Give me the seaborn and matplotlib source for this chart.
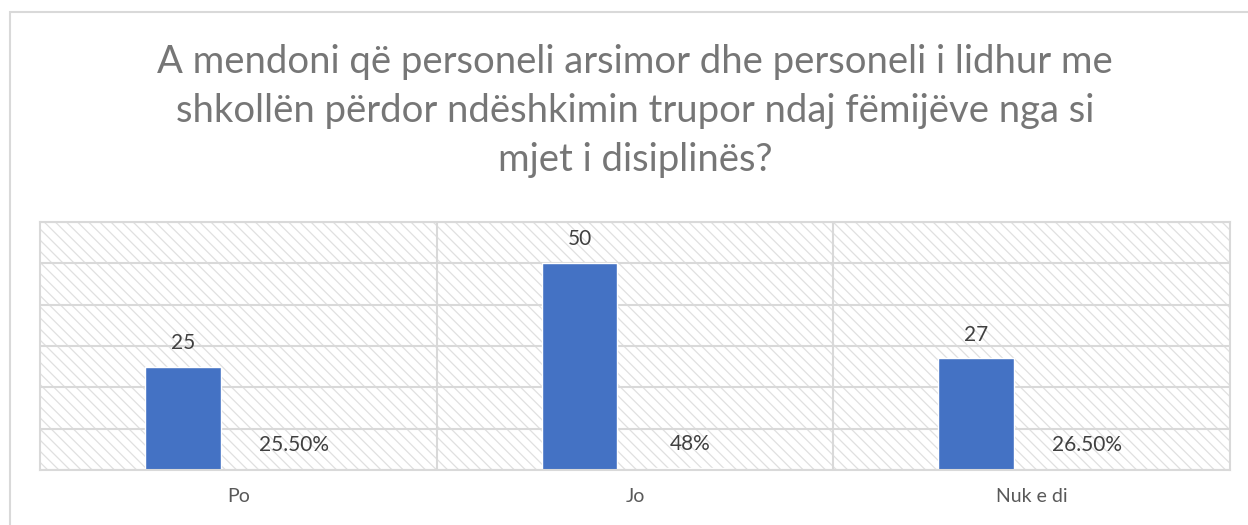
import pandas as pd
import seaborn as sns
import matplotlib.pyplot as plt
from matplotlib.patches import Rectangle

# data
categories = ["Po", "Jo", "Nuk e di"]
counts = [25, 50, 27]
shares = [0.255, 0.48, 0.265]
share_labels = ["25.50%", "48%", "26.50%"]
title_lines = [
    "A mendoni që personeli arsimor dhe personeli i lidhur me",
    "shkollën përdor ndëshkimin trupor ndaj fëmijëve nga si",
    "mjet i disiplinës?",
]

df = pd.DataFrame({
    "kategoria": categories * 2,
    "vlera": counts + shares,
    "seria": ["numri"] * 3 + ["perqindja"] * 3,
})

sns.set_theme(style="white")
plt.rcParams["font.family"] = ["Lato", "DejaVu Sans"]
plt.rcParams["hatch.linewidth"] = 0.9
plt.rcParams["hatch.color"] = "#e0e0e0"

W, H = 1248, 525
fig = plt.figure(figsize=(W / 100, H / 100), dpi=100)
ax = fig.add_axes([40 / W, 55 / H, 1190 / W, 248 / H])

grid_col = "#d9d9d9"
ax.add_patch(Rectangle((0, 0), 1, 1, transform=ax.transAxes, fill=False,
                       hatch="\\\\\\", edgecolor="#e0e0e0", lw=0, zorder=0.1))

sns.barplot(data=df, x="kategoria", y="vlera", hue="seria",
            palette=["#4472C4", "#ED7D31"], saturation=1, width=0.56, gap=0.32,
            legend=False, ax=ax, zorder=2)

ax.bar_label(ax.containers[0], labels=[str(c) for c in counts],
             padding=10, fontsize=15, color="#404040")
ax.bar_label(ax.containers[1], labels=share_labels,
             padding=10, fontsize=15, color="#404040")

ax.set_xlim(-0.5, 2.5)
ax.set_ylim(0, 60)
ax.set_yticks(range(0, 61, 10))
ax.yaxis.grid(True, color=grid_col, lw=1.5, zorder=0.5)
for xv in [0.5, 1.5]:
    ax.axvline(xv, color=grid_col, lw=1.5, zorder=0.5)
ax.tick_params(axis="y", left=False, labelleft=False)
ax.tick_params(axis="x", length=0, pad=13, labelsize=14, labelcolor="#595959")
ax.set_xlabel("")
ax.set_ylabel("")
for sp in ax.spines.values():
    sp.set_color(grid_col)
    sp.set_linewidth(1.5)

# outer chart frame
fig.add_artist(Rectangle((10 / W, -0.1), 1.2, (H - 12) / H + 0.1,
                         transform=fig.transFigure, fill=False,
                         edgecolor=grid_col, lw=1.5))

for i, line in enumerate(title_lines):
    fig.text(635 / W, 1 - (73 + 49 * i) / H, line, ha="center", va="baseline",
             fontsize=27.5, color="#767676")

plt.savefig("out.png", dpi=100)
plt.close()
